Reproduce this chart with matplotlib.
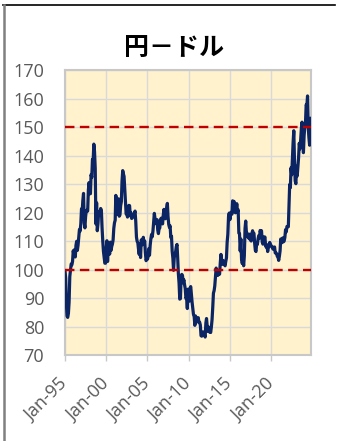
import matplotlib
matplotlib.use("Agg")
import matplotlib.pyplot as plt
from matplotlib.lines import Line2D
import pandas as pd
import numpy as np

# Month-end USD/JPY, Jan-1995 .. Nov-2024
y1995 = [99.6, 96.9, 88.4, 83.7, 83.2, 84.6, 88.5, 97.5, 99.7, 101.9, 101.6, 102.8]
y1996 = [106.6, 105.1, 107.0, 104.4, 108.5, 109.9, 106.7, 108.5, 111.4, 114.0, 113.5, 116.0]
y1997 = [121.3, 120.5, 124.2, 126.7, 116.4, 114.6, 118.5, 120.7, 120.8, 120.5, 127.9, 130.5]
y1998 = [126.6, 126.6, 133.3, 132.3, 138.6, 138.2, 144.0, 141.4, 135.5, 116.0, 123.4, 113.6]
y1999 = [116.1, 120.4, 119.6, 119.3, 121.4, 120.6, 114.6, 110.0, 106.3, 104.3, 102.2, 102.2]
y2000 = [107.3, 110.1, 102.8, 108.2, 107.5, 105.4, 109.6, 106.7, 108.1, 108.9, 110.4, 114.4]
y2001 = [116.4, 117.3, 126.0, 123.6, 119.3, 124.5, 124.8, 118.7, 119.2, 122.4, 123.8, 131.0]
y2002 = [134.7, 133.5, 132.7, 128.5, 124.0, 119.5, 119.9, 118.4, 121.7, 122.5, 122.4, 118.8]
y2003 = [119.9, 117.9, 118.1, 119.0, 119.3, 119.8, 120.5, 116.9, 111.4, 109.9, 109.4, 107.1]
y2004 = [105.3, 109.0, 104.2, 110.4, 109.4, 108.7, 111.3, 109.2, 110.0, 105.8, 103.1, 103.8]
y2005 = [103.6, 104.6, 107.3, 105.0, 108.5, 110.8, 112.3, 111.5, 113.5, 116.4, 119.7, 117.9]
y2006 = [117.2, 116.0, 117.5, 113.8, 112.6, 114.4, 114.6, 117.5, 118.0, 117.3, 116.0, 119.0]
y2007 = [121.1, 118.5, 117.8, 119.6, 121.7, 123.2, 118.6, 115.8, 114.8, 115.3, 111.2, 111.7]
y2008 = [106.4, 104.0, 99.7, 104.1, 105.5, 106.2, 108.0, 108.8, 104.0, 98.5, 95.2, 89.6]
y2009 = [89.8, 97.6, 98.3, 97.9, 95.3, 96.4, 94.7, 93.3, 89.8, 90.3, 86.3, 93.1]
y2010 = [90.3, 88.9, 93.4, 94.0, 91.3, 88.5, 86.5, 84.2, 83.5, 80.4, 83.7, 81.5]
y2011 = [82.1, 81.8, 83.1, 81.4, 81.5, 80.5, 76.8, 76.6, 77.1, 78.1, 77.6, 77.0]
y2012 = [76.3, 81.2, 82.8, 80.0, 78.3, 79.8, 78.1, 78.4, 77.9, 79.8, 82.4, 86.6]
y2013 = [91.7, 92.6, 94.2, 97.4, 100.5, 99.1, 97.9, 98.2, 98.2, 98.4, 102.4, 105.3]
y2014 = [102.0, 101.8, 103.2, 102.2, 101.8, 101.3, 102.8, 104.1, 109.6, 112.3, 118.6, 119.8]
y2015 = [117.5, 119.6, 120.1, 119.4, 124.1, 122.4, 123.9, 121.2, 119.9, 120.6, 123.1, 120.2]
y2016 = [121.0, 112.8, 112.6, 106.5, 110.7, 103.3, 102.1, 103.3, 101.3, 104.8, 114.4, 117.0]
y2017 = [112.8, 112.8, 111.4, 111.5, 110.8, 112.4, 110.3, 110.0, 112.5, 113.6, 112.5, 112.7]
y2018 = [109.2, 106.7, 106.3, 109.3, 108.8, 110.7, 111.9, 111.0, 113.7, 112.9, 113.6, 109.7]
y2019 = [108.9, 111.4, 110.9, 111.4, 108.3, 107.8, 108.7, 106.3, 108.1, 108.0, 109.5, 108.6]
y2020 = [108.4, 108.1, 107.5, 107.1, 107.8, 107.9, 105.8, 105.9, 105.5, 104.6, 104.3, 103.2]
y2021 = [104.7, 106.6, 110.7, 109.3, 109.6, 111.1, 109.7, 110.0, 111.3, 114.0, 113.2, 115.1]
y2022 = [115.1, 115.0, 121.7, 129.8, 128.7, 135.7, 133.2, 138.9, 144.7, 148.7, 138.1, 131.1]
y2023 = [130.1, 136.2, 132.8, 136.3, 139.3, 144.3, 142.3, 145.5, 149.4, 151.7, 148.2, 141.0]
y2024 = [147.0, 150.0, 151.3, 157.8, 157.3, 160.9, 150.0, 146.2, 143.6, 152.0, 153.0]

values = (y1995 + y1996 + y1997 + y1998 + y1999 + y2000 + y2001 + y2002 + y2003 +
          y2004 + y2005 + y2006 + y2007 + y2008 + y2009 + y2010 + y2011 + y2012 +
          y2013 + y2014 + y2015 + y2016 + y2017 + y2018 + y2019 + y2020 + y2021 +
          y2022 + y2023 + y2024)
dates = pd.date_range("1995-01-01", periods=len(values), freq="MS")

tick_years = [1995, 2000, 2005, 2010, 2015, 2020]
tick_labels = ["Jan-95", "Jan-00", "Jan-05", "Jan-10", "Jan-15", "Jan-20"]
ref_levels = [100, 150]
title = "円－ドル"

W, H = 340, 441
fig = plt.figure(figsize=(W / 100, H / 100), dpi=100)
ax = fig.add_axes([65 / W, 1 - 355 / H, (311 - 65) / W, (355 - 70) / H])
ax.set_facecolor("#fff2cc")

ax.plot(dates, values, color="#0b2463", lw=2.3, solid_joinstyle="round", zorder=3)
for lv in ref_levels:
    ax.axhline(lv, color="#c00000", lw=1.7, ls=(0, (4.0, 2.3)), zorder=4)

ax.set_xlim(dates[0], dates[-1])
ax.set_ylim(70, 170)
ax.set_yticks(np.arange(70, 171, 10))
ax.set_xticks([pd.Timestamp(f"{y}-01-01") for y in tick_years])
ax.set_xticklabels(tick_labels, rotation=45, ha="right", va="center",
                   rotation_mode="anchor")
ax.grid(True, color="#d9d9d9", lw=1.0, zorder=0)
ax.set_axisbelow(True)
for s in ax.spines.values():
    s.set_color("#c8c8c8")
    s.set_linewidth(1.5)
ax.tick_params(axis="y", length=0, pad=15, labelsize=13, labelcolor="#595959")
ax.tick_params(axis="x", length=4, color="#c8c8c8", width=1.0, pad=15,
               labelsize=13, labelcolor="#595959")
for lab in ax.get_xticklabels() + ax.get_yticklabels():
    lab.set_family("Open Sans")

fig.text(174 / W, 1 - 48 / H, title, ha="center", va="center",
         fontsize=18, fontweight="bold", family=["Noto Sans CJK JP", "DejaVu Sans"])

fig.add_artist(Line2D([3 / W, 335 / W], [1 - 5 / H, 1 - 5 / H], color="black", lw=1.2,
                      transform=fig.transFigure))
fig.add_artist(Line2D([3.5 / W, 3.5 / W], [1 - 5 / H, 0], color="#808080", lw=1.8,
                      transform=fig.transFigure))

fig.savefig("out.png", dpi=100)
